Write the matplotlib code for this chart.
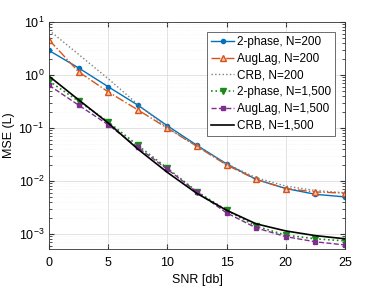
import matplotlib
matplotlib.use("Agg")
import matplotlib.pyplot as plt

plt.rcParams['font.family'] = ['Liberation Sans', 'DejaVu Sans']
plt.rcParams['mathtext.fontset'] = 'custom'
plt.rcParams['mathtext.rm'] = 'Liberation Sans'

snr = [0, 2.5, 5, 7.5, 10, 12.5, 15, 17.5, 20, 22.5, 25]
twophase_200 = [2.9, 1.36, 0.60, 0.27, 0.11, 0.047, 0.021, 0.0107, 0.0072, 0.0056, 0.0050]
auglag_200 = [4.6, 1.15, 0.48, 0.22, 0.099, 0.045, 0.020, 0.0107, 0.0072, 0.0062, 0.0059]
crb_200 = [7.0, 2.45, 0.85, 0.28, 0.10, 0.045, 0.021, 0.0115, 0.0080, 0.0066, 0.0060]
twophase_1500 = [0.77, 0.32, 0.13, 0.047, 0.0174, 0.0063, 0.0028, 0.0014, 0.00095, 0.00081, 0.00074]
auglag_1500 = [0.64, 0.27, 0.115, 0.043, 0.0166, 0.0062, 0.0025, 0.0013, 0.00089, 0.00071, 0.00062]
crb_1500 = [0.95, 0.34, 0.124, 0.040, 0.0145, 0.0058, 0.0028, 0.00155, 0.00114, 0.00093, 0.00081]

fig = plt.figure(figsize=(3.82, 2.86), dpi=100)
ax = fig.add_axes([49 / 382, 1 - 249 / 286, 296 / 382, 227 / 286])

ax.semilogy(snr, twophase_200, '-o', color='#0072BD', ms=3, lw=1, label='2-phase, N=200')
ax.semilogy(snr, auglag_200, '-.^', color='#D95319', ms=4, lw=1, mfc='#F2C6B0', label='AugLag, N=200')
ax.semilogy(snr, crb_200, ':', color='#808080', lw=1, label='CRB, N=200')
ax.semilogy(snr, twophase_1500, ':v', color='#1A8A1A', ms=4, lw=1.2, label='2-phase, N=1,500')
ax.semilogy(snr, auglag_1500, '--s', color='#7E2F8E', ms=3, lw=1, label='AugLag, N=1,500')
ax.semilogy(snr, crb_1500, '-', color='black', lw=1.2, label='CRB, N=1,500')

ax.set_xlim(0, 25)
ax.set_ylim(5.2e-4, 10)
ax.set_xticks([0, 5, 10, 15, 20, 25])
ax.set_yticks([1e-3, 1e-2, 1e-1, 1, 10])
ax.tick_params(which='both', direction='in', top=True, right=True, labelsize=9, color='#333333')
ax.tick_params(axis='x', pad=6)
ax.grid(True, which='major', color='#dddddd', lw=0.6)
ax.grid(True, which='minor', color='#eeeeee', lw=0.4, ls=':')
for s in ax.spines.values():
    s.set_color('#333333')
    s.set_linewidth(0.6)
ax.set_xlabel('SNR [db]', fontsize=9, labelpad=3)
ax.set_ylabel('MSE (L)', fontsize=9)
ax.yaxis.set_label_coords(-0.115, 0.5)

leg = ax.legend(loc='upper right', fontsize=8.5, fancybox=False, framealpha=1,
                edgecolor='#555555', handlelength=2.0, labelspacing=0.4,
                borderpad=0.35, handletextpad=0.2, borderaxespad=0,
                bbox_to_anchor=(0.966, 0.956))
leg.get_frame().set_linewidth(0.6)

fig.savefig('out.png', dpi=100)
